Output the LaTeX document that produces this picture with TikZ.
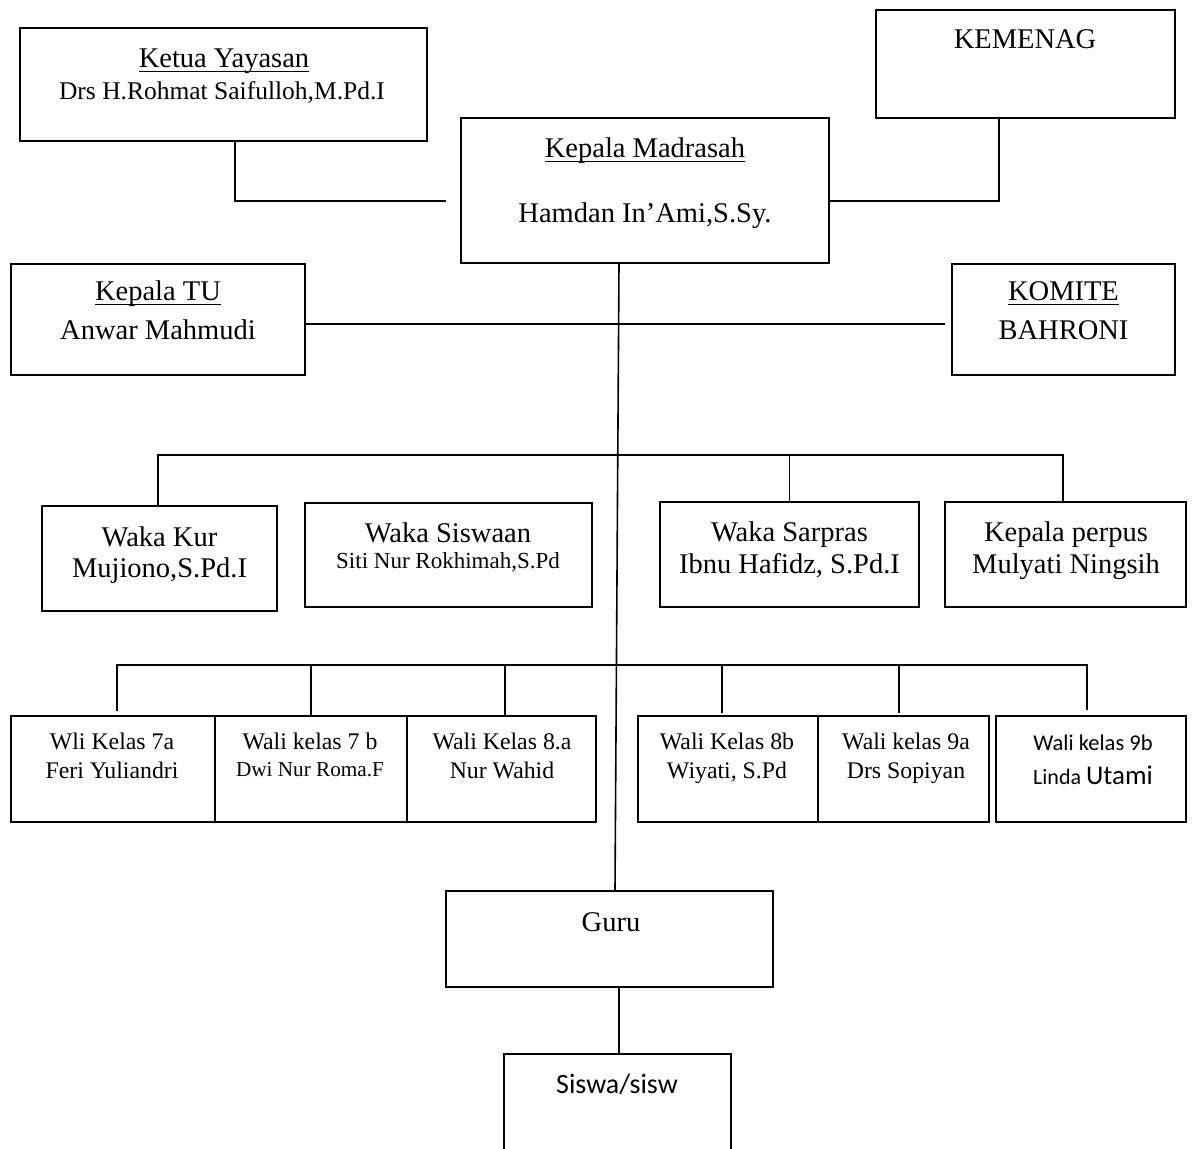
\documentclass[tikz,border=0pt]{standalone}
\usepackage{fontspec}
\setmainfont{Liberation Serif}
\newfontfamily\calfont{Carlito}
\usetikzlibrary{calc}
\newcommand\fmain{\fontsize{28.5}{34}\selectfont}
\newcommand\fdrs{\fontsize{25.5}{30}\selectfont}
\newcommand\fsiti{\fontsize{23}{28}\selectfont}
\newcommand\fwali{\fontsize{23.8}{28}\selectfont}
\newcommand\fdwi{\fontsize{21.2}{25}\selectfont}
\newcommand\myul[1]{\setbox0=\hbox{#1}\leavevmode\rlap{\rule[-5.2pt]{\wd0}{1.4pt}}\box0}
\begin{document}
\begin{tikzpicture}[x=1pt,y=-1pt,
  box/.style={draw,line width=1.8pt,inner sep=0pt},
  conn/.style={line width=1.6pt},
  txt/.style={inner sep=0pt,anchor=base}]
\useasboundingbox (0,0) rectangle (1192,1149);
\clip (0,0) rectangle (1192,1149);

% boxes
\node[box,minimum width=407pt,minimum height=113pt] (ketua) at (223.5,84.5) {};
\node[box,minimum width=299pt,minimum height=108pt] (kemenag) at (1025.5,64) {};
\node[box,minimum width=368pt,minimum height=145pt] (kamad) at (645,190.5) {};
\node[box,minimum width=294pt,minimum height=111pt] (ktu) at (158,319.5) {};
\node[box,minimum width=223pt,minimum height=111pt] (komite) at (1063.5,319.5) {};
\node[box,minimum width=235pt,minimum height=105pt] (wkur) at (159.5,558.5) {};
\node[box,minimum width=287pt,minimum height=104pt] (wsis) at (448.5,555) {};
\node[box,minimum width=259pt,minimum height=105pt] (wsar) at (789.5,554.5) {};
\node[box,minimum width=241pt,minimum height=105pt] (perpus) at (1065.5,554.5) {};
\node[box,minimum width=204pt,minimum height=106pt] (w7a) at (113,769) {};
\node[box,minimum width=192pt,minimum height=106pt] (w7b) at (311,769) {};
\node[box,minimum width=189pt,minimum height=106pt] (w8a) at (501.5,769) {};
\node[box,minimum width=180pt,minimum height=106pt] (w8b) at (728,769) {};
\node[box,minimum width=171pt,minimum height=106pt] (w9a) at (903.5,769) {};
\node[box,minimum width=190pt,minimum height=106pt] (w9b) at (1091,769) {};
\node[box,minimum width=327pt,minimum height=96pt] (guru) at (609.5,939) {};
\node[box,minimum width=227pt,minimum height=116pt] (siswa) at (617.5,1112) {};

% texts
\node[txt] (t1) at (224,67) {\fmain\myul{Ketua Yayasan}};
\node[txt] (t2) at (222,99) {\fdrs Drs H.Rohmat Saifulloh,M.Pd.I};
\node[txt] (t3) at (1025,48) {\fmain KEMENAG};
\node[txt] (t4) at (645,157) {\fmain\myul{Kepala Madrasah}};
\node[txt] (t5) at (645,222) {\fmain Hamdan In’Ami,S.Sy.};
\node[txt] (t6) at (158,300) {\fmain\myul{Kepala TU}};
\node[txt] (t7) at (158,339) {\fmain Anwar Mahmudi};
\node[txt] (t8) at (1063.5,300) {\fmain\myul{KOMITE}};
\node[txt] (t9) at (1063.5,339) {\fmain BAHRONI};
\node[txt] (t10) at (159.5,546) {\fmain Waka Kur};
\node[txt] (t11) at (159.5,577) {\fmain Mujiono,S.Pd.I};
\node[txt] (t12) at (448,542) {\fmain Waka Siswaan};
\node[txt] (t13) at (448,568) {\fsiti Siti Nur Rokhimah,S.Pd};
\node[txt] (t14) at (789.5,541) {\fmain Waka Sarpras};
\node[txt] (t15) at (789.5,573) {\fmain Ibnu Hafidz, S.Pd.I};
\node[txt] (t16) at (1066,541) {\fmain Kepala perpus};
\node[txt] (t17) at (1066,573) {\fmain Mulyati Ningsih};
\node[txt] (t18) at (112,749) {\fwali Wli Kelas 7a};
\node[txt] (t19) at (112,778) {\fwali Feri Yuliandri};
\node[txt] (t20) at (310,749) {\fwali Wali kelas 7 b};
\node[txt] (t21) at (310,776) {\fdwi Dwi Nur Roma.F};
\node[txt] (t22) at (502,749) {\fwali Wali Kelas 8.a};
\node[txt] (t23) at (502,778) {\fwali Nur Wahid};
\node[txt] (t24) at (727,749) {\fwali Wali Kelas 8b};
\node[txt] (t25) at (727,778) {\fwali Wiyati, S.Pd};
\node[txt] (t26) at (906,749) {\fwali Wali kelas 9a};
\node[txt] (t27) at (906,778) {\fwali Drs Sopiyan};
\node[txt] (t28) at (1093,750) {\calfont\fontsize{22.5}{27}\selectfont Wali kelas 9b};
\node[txt] (t29) at (1093,784) {\calfont{\fontsize{22}{27}\selectfont Linda }{\fontsize{27}{32}\selectfont Utami}};
\node[txt] (t30) at (611,931) {\fmain Guru};
\node[txt] (t31) at (617,1093) {\calfont\fontsize{28}{33}\selectfont Siswa/sisw};

% connectors
\coordinate (kyend) at (446,201);
\draw[conn] (kyend) -| ($(ketua.south)+(11.5,0)$);
\draw[conn] (kamad.east |- kyend) -| ($(kemenag.south)+(-26.5,0)$);
\coordinate (tuend) at (945,324);
\draw[conn] (ktu.east |- tuend) -- (tuend);
\coordinate (blipa) at (730,324);
\coordinate (blipb) at (759,324);
\draw[line width=2.6pt] (blipa) -- (blipb);
\draw[conn] ($(kamad.south)+(-26,0)$) -- ($(guru.north)+(5.5,0)$);

% waka bus
\coordinate (wbL) at (158,455);
\coordinate (wbR) at (1063,455);
\draw[conn] (wkur.north -| wbL) -- (wbL) -- (wbR) -- (wbR |- perpus.north);
\draw[conn] (wsar.north) -- (wsar.north |- wbL);

% wali bus
\coordinate (vbL) at (117,665);
\coordinate (vbR) at (1087,665);
\coordinate (d1) at (117,711);
\coordinate (d3) at (505,716);
\coordinate (d4) at (722,713);
\coordinate (d5) at (899,713);
\coordinate (d6) at (1087,710);
\draw[conn] (d1) -- (vbL) -- (vbR) -- (d6);
\draw[conn] (w7b.north) -- (w7b.north |- vbL);
\draw[conn] (d3) -- (d3 |- vbL);
\draw[conn] (d4) -- (d4 |- vbL);
\draw[conn] (d5) -- (d5 |- vbL);

% guru to siswa
\draw[conn] ($(guru.south)+(9.5,0)$) -- ($(siswa.north)+(1.5,0)$);
\end{tikzpicture}
\end{document}
